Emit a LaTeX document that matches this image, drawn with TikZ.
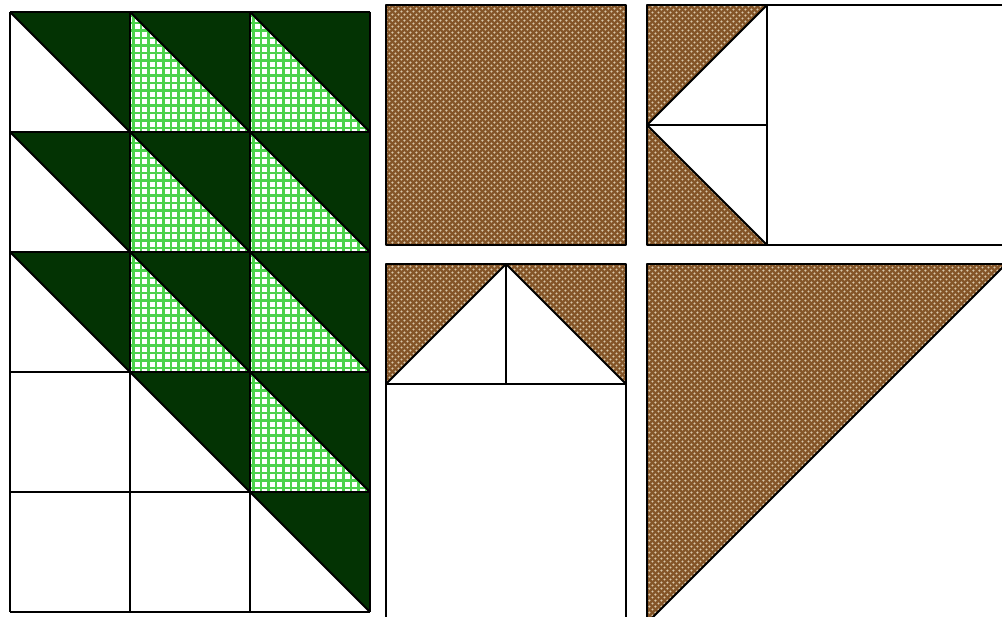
\documentclass[tikz,border=0pt]{standalone}
\usepackage{tikz}
\usetikzlibrary{patterns}
\definecolor{pinegreen}{HTML}{033303}
\definecolor{checkgreen}{HTML}{4CD24C}
\definecolor{tanbase}{HTML}{845528}
\definecolor{tandot}{HTML}{D8C6A8}
\pgfdeclarepatternformonly{brownweave}{\pgfpointorigin}{\pgfpoint{3.4pt}{3.4pt}}{\pgfpoint{3.4pt}{3.4pt}}{
  \pgfpathcircle{\pgfpoint{0.85pt}{0.85pt}}{0.7pt}
  \pgfpathcircle{\pgfpoint{2.55pt}{2.55pt}}{0.7pt}
  \pgfusepath{fill}
}
\tikzset{
  seam/.style={draw=black,line width=1.1pt,line join=round},
  darktri/.style={fill=pinegreen},
  checkline/.style={checkgreen,line width=1.25pt},
  brownpatch/.style={preaction={fill=tanbase},pattern=brownweave,pattern color=tandot},
}

\begin{document}
\begin{tikzpicture}[x=0.02cm,y=-0.02cm]
  \useasboundingbox (0,0) rectangle (1002,617);
  \clip (0,0) rectangle (1002,617);
  % left block of half-square triangles
  \foreach \r in {0,...,4}{
    \foreach \c in {0,1,2}{
      \pgfmathtruncatemacro\cx{10+120*\c}
      \pgfmathtruncatemacro\cy{12+120*\r}
      \ifnum\c>\numexpr\r-3\relax
        \fill[darktri] (\cx,\cy) -- ++(120,0) -- ++(0,120) -- cycle;
        \draw[seam] (\cx,\cy) -- ++(120,120);
      \fi
      \ifnum\c>0 \ifnum\c>\numexpr\r-2\relax
        \begin{scope}
          \clip (\cx,\cy) -- ++(120,120) -- ++(-120,0) -- cycle;
          \foreach \k in {3.5,11,...,120}{
            \draw[checkline] (\cx+\k,\cy) -- ++(0,120);
            \draw[checkline] (\cx,\cy+\k) -- ++(120,0);
          }
        \end{scope}
        \draw[seam] (\cx,\cy) -- ++(120,120);
      \fi\fi
    }
  }
  \foreach \c in {0,1,2,3}
    \draw[seam] (10+120*\c,12) -- ++(0,600);
  \foreach \r in {0,...,5}
    \draw[seam] (10,12+120*\r) -- ++(360,0);
  % plain square
  \path[brownpatch] (386,5) rectangle (626,245);
  \draw[seam] (386,5) rectangle (626,245);
  % flying geese, pointing left
  \path[brownpatch] (647,5) -- (767,5) -- (647,125) -- cycle;
  \path[brownpatch] (647,125) -- (767,245) -- (647,245) -- cycle;
  \draw[seam] (647,5) rectangle (1007,245);
  \draw[seam] (767,5) -- (767,245);
  \draw[seam] (647,125) -- (767,125);
  \draw[seam] (767,5) -- (647,125) -- (767,245);
  % flying geese, pointing up
  \path[brownpatch] (386,264) -- (506,264) -- (386,384) -- cycle;
  \path[brownpatch] (506,264) -- (626,264) -- (626,384) -- cycle;
  \draw[seam] (386,264) rectangle (626,624);
  \draw[seam] (386,384) -- (626,384);
  \draw[seam] (506,264) -- (506,384);
  \draw[seam] (386,384) -- (506,264) -- (626,384);
  % large half-square triangle
  \path[brownpatch] (647,264) -- (1006,264) -- (647,623) -- cycle;
  \draw[seam] (647,264) rectangle (1006,623);
  \draw[seam] (1006,264) -- (647,623);
\end{tikzpicture}
\end{document}
